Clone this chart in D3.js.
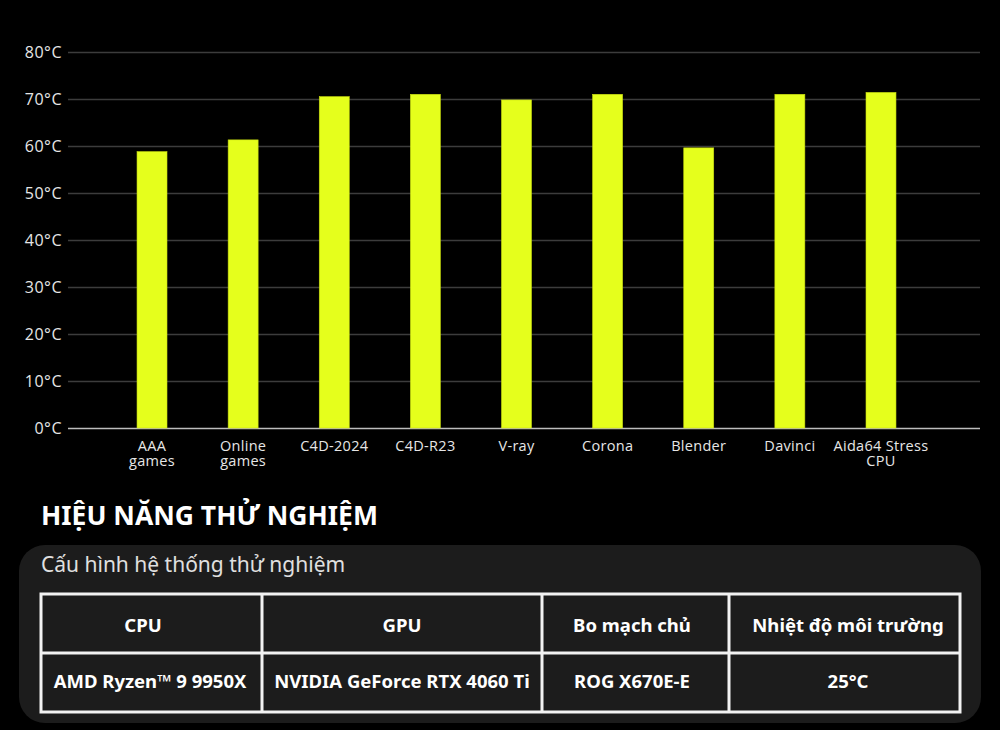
<!DOCTYPE html>
<html><head><meta charset="utf-8">
<script src="https://cdn.jsdelivr.net/npm/d3@7"></script>
<style>
html,body{margin:0;padding:0;background:#000;}
svg{display:block;}
</style></head>
<body>
<svg id="c" width="1000" height="730"></svg>
<script>
const categories = [["AAA","games"],["Online","games"],["C4D-2024"],["C4D-R23"],["V-ray"],["Corona"],["Blender"],["Davinci"],["Aida64 Stress","CPU"]];
const temps = [58.8, 61.3, 70.5, 71.0, 69.8, 71.0, 59.6, 71.0, 71.4];
const yTicks = [0,10,20,30,40,50,60,70,80];
const title = "HIỆU NĂNG THỬ NGHIỆM";
const subtitle = "Cấu hình hệ thống thử nghiệm";
const tableHead = ["CPU","GPU","Bo mạch chủ","Nhiệt độ môi trường"];
const tableRow = ["AMD Ryzen™ 9 9950X","NVIDIA GeForce RTX 4060 Ti","ROG X670E-E","25°C"];

(function(){
const svg = d3.select("#c");
const mLeft = 68, mRight = 980, mTop = 52, mBottom = 428;
const keys = categories.map(c => c.join(" "));
const x = d3.scaleBand().domain(keys).range([106.5, 926.5]).paddingInner(0.671).paddingOuter(0.335);
const y = d3.scaleLinear().domain([0,80]).range([mBottom, mTop]);

const font = "'Open Sans', sans-serif";
const yAxis = d3.axisLeft(y).tickValues(yTicks).tickSize(-(mRight-mLeft)).tickPadding(6).tickFormat(d => d + "°C");
const ga = svg.append("g").attr("transform", `translate(${mLeft},0)`).call(yAxis);
ga.select(".domain").remove();
ga.selectAll(".tick line").attr("stroke", d => d === 0 ? "#bdbdbd" : "#3c3c3c").attr("stroke-width", 1.5);
ga.selectAll(".tick text").attr("fill", "#e6e6e6").attr("font-size", 16).attr("letter-spacing", 0.5).attr("font-family", font);

svg.append("g").selectAll("rect").data(temps).join("rect")
  .attr("x", (d,i) => x(keys[i]))
  .attr("width", x.bandwidth())
  .attr("y", d => y(d))
  .attr("height", d => y(0) - y(d))
  .attr("fill", "#e5ff1c")
  .attr("stroke", "#c8dc10").attr("stroke-width", 0.6);

const xl = svg.append("g").selectAll("text").data(categories).join("text")
  .attr("x", (d,i) => x(keys[i]) + x.bandwidth()/2)
  .attr("y", 450.5)
  .attr("text-anchor", "middle")
  .attr("fill", "#e6e6e6").attr("font-size", 14.5).attr("letter-spacing", 0.3).attr("font-family", font);
xl.selectAll("tspan").data(d => d).join("tspan")
  .attr("x", function(){ return this.parentNode.getAttribute("x"); })
  .attr("dy", (d,i) => i === 0 ? 0 : 15)
  .text(d => d);

svg.append("text").attr("x", 41).attr("y", 525).attr("fill", "#fff")
  .attr("font-family", "'Noto Sans', sans-serif").attr("font-weight", 700).attr("font-size", 26.5)
  .text(title);

svg.append("rect").attr("x", 19).attr("y", 545).attr("width", 962).attr("height", 178).attr("rx", 26)
  .attr("fill", "#1c1c1c");
svg.append("text").attr("x", 41).attr("y", 572).attr("fill", "#e0e0e0")
  .attr("font-family", "'Noto Sans', sans-serif").attr("font-size", 21).text(subtitle);

const colX = [41, 262, 542, 729, 960];
const rowY = [594, 653, 712];
const headCx = [143, 402, 632, 848];
const bodyCx = [150, 402, 632, 848];
const baseY = [632, 688];
const tg = svg.append("g");
[tableHead, tableRow].forEach((row, r) => {
  row.forEach((txt, c) => {
    tg.append("text")
      .attr("x", (r === 0 ? headCx : bodyCx)[c])
      .attr("y", baseY[r])
      .attr("text-anchor", "middle").attr("fill", "#fff")
      .attr("font-family", "'Noto Sans', sans-serif").attr("font-weight", 700).attr("font-size", 18.5)
      .text(txt);
  });
});
tg.append("rect").attr("x", colX[0]).attr("y", rowY[0]).attr("width", colX[4]-colX[0]).attr("height", rowY[2]-rowY[0])
  .attr("fill", "none").attr("stroke", "#f2f2f2").attr("stroke-width", 3);
tg.append("line").attr("x1", colX[0]).attr("x2", colX[4]).attr("y1", rowY[1]).attr("y2", rowY[1])
  .attr("stroke", "#f2f2f2").attr("stroke-width", 3);
colX.slice(1,4).forEach(cx => tg.append("line").attr("x1", cx).attr("x2", cx).attr("y1", rowY[0]).attr("y2", rowY[2])
  .attr("stroke", "#f2f2f2").attr("stroke-width", 3));
})();
</script>
</body></html>
